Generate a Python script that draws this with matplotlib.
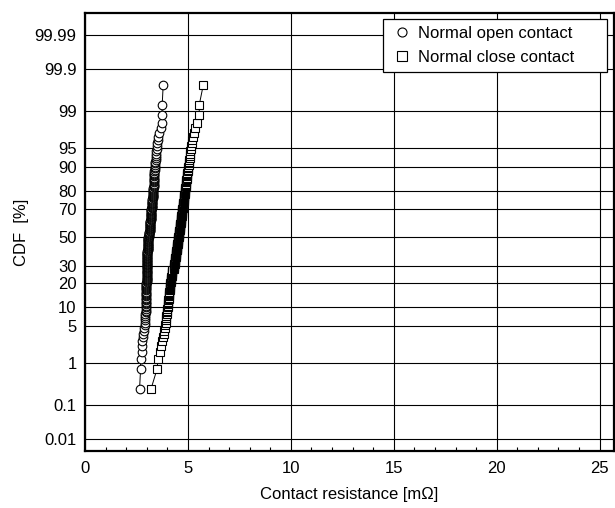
"""
Normal probability plot of contact resistance (open vs close contact)
"""
import numpy as np
import matplotlib
matplotlib.use('Agg')
import matplotlib.pyplot as plt
from matplotlib.lines import Line2D
from matplotlib.ticker import FixedLocator, NullLocator, MultipleLocator
from statistics import NormalDist

# frequency tables (resistance level [mOhm] -> number of contacts)
open_levels = [2.65, 2.70, 2.75, 2.80, 2.85, 2.90, 2.95, 3.00, 3.05, 3.10, 3.15, 3.20,
               3.25, 3.30, 3.35, 3.40, 3.45, 3.50, 3.55, 3.60, 3.70, 3.75, 3.80]
open_counts = [1, 2, 3, 2, 2, 6, 24, 40, 20, 8, 16, 16,
               12, 12, 14, 6, 5, 3, 2, 1, 1, 3, 1]

close_levels = [3.20, 3.50, 3.55, 3.65, 3.70, 3.75, 3.80, 3.85, 3.90, 3.95, 4.00, 4.05,
                4.10, 4.15, 4.20, 4.25, 4.30, 4.35, 4.40, 4.45, 4.50, 4.55, 4.60, 4.65,
                4.70, 4.75, 4.80, 4.85, 4.90, 4.95, 5.00, 5.05, 5.10, 5.15, 5.20, 5.25,
                5.30, 5.35, 5.45, 5.55, 5.75]
close_counts = [1, 1, 1, 1, 1, 1, 1, 2, 2, 4, 4, 6,
                7, 8, 7, 8, 7, 9, 9, 10, 10, 10, 10, 10,
                10, 8, 9, 7, 7, 6, 4, 4, 4, 2, 2, 1,
                1, 1, 1, 2, 1]

y_ticks = [0.01, 0.1, 1, 5, 10, 20, 30, 50, 70, 80, 90, 95, 99, 99.9, 99.99]
y_labels = ['0.01', '0.1', '1', '5', '10', '20', '30', '50', '70', '80', '90', '95',
            '99', '99.9', '99.99']
x_ticks = [0, 5, 10, 15, 20, 25]

nd = NormalDist()
_ppf = np.vectorize(lambda v: nd.inv_cdf(v), otypes=[float])
_cdf = np.vectorize(lambda v: nd.cdf(v), otypes=[float])


def probit(p):
    p = np.clip(np.asarray(p, dtype=float), 1e-10, 100 - 1e-10)
    return _ppf(p / 100.0)


def inv_probit(z):
    return _cdf(np.asarray(z, dtype=float)) * 100.0


def plotting_positions(levels, counts):
    x = np.repeat(levels, counts)
    n = len(x)
    cdf = (np.arange(1, n + 1) - 0.5) / n * 100
    return x, cdf


plt.rcParams['font.family'] = ['Liberation Sans', 'DejaVu Sans']
plt.rcParams['font.size'] = 12

fig = plt.figure(figsize=(6.15, 5.08), dpi=100)
ax = fig.add_axes([0.1382, 0.1122, 0.8602, 0.8622])

ax.set_yscale('function', functions=(probit, inv_probit))

x_open, p_open = plotting_positions(open_levels, open_counts)
x_close, p_close = plotting_positions(close_levels, close_counts)

ax.plot(x_open, p_open, color='black', lw=0.7, marker='o', ms=6.2,
        mfc='white', mec='black', mew=0.8, zorder=3)
ax.plot(x_close, p_close, color='black', lw=0.7, marker='s', ms=6.2,
        mfc='white', mec='black', mew=0.8, zorder=3)

ax.set_xlim(0, 25.7)
ax.set_ylim(inv_probit(-3.94), inv_probit(4.125))

ax.set_xticks(x_ticks)
ax.xaxis.set_minor_locator(MultipleLocator(1))
ax.yaxis.set_major_locator(FixedLocator(y_ticks))
ax.yaxis.set_minor_locator(NullLocator())
ax.set_yticklabels(y_labels)

ax.tick_params(axis='x', which='major', length=0, pad=7)
ax.tick_params(axis='x', which='minor', direction='in', length=3, width=0.8)
ax.tick_params(axis='y', which='major', length=0, pad=6)

ax.grid(True, which='major', color='black', lw=0.8)
ax.set_axisbelow(True)
for s in ax.spines.values():
    s.set_linewidth(1.6)

ax.set_xlabel('Contact resistance [m\u03a9]', labelpad=8)
ax.set_ylabel('CDF  [%]', labelpad=4)

handles = [
    Line2D([], [], ls='none', marker='o', ms=6.5, mfc='white', mec='black', mew=0.8),
    Line2D([], [], ls='none', marker='s', ms=6.5, mfc='white', mec='black', mew=0.8),
]
leg = ax.legend(handles, ['Normal open contact', 'Normal close contact'],
                loc='upper left', bbox_to_anchor=(0.563, 0.863, 0.424, 0.123),
                mode='expand', fancybox=False, framealpha=1, edgecolor='black',
                handlelength=1.5, handletextpad=0.2, labelspacing=0.55,
                borderpad=0.42, borderaxespad=0)
leg.get_frame().set_linewidth(0.9)

plt.savefig('out.png', dpi=100)
plt.close()
